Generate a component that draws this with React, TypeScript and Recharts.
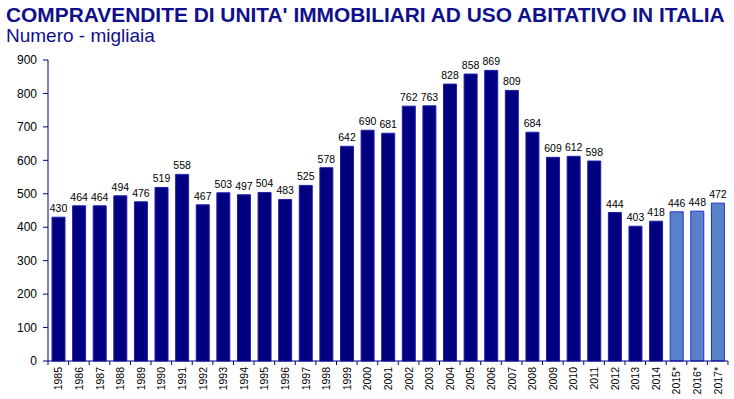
import { BarChart, Bar, XAxis, YAxis, LabelList, Cell } from 'recharts';

const years = [
  '1985', '1986', '1987', '1988', '1989', '1990', '1991', '1992', '1993', '1994', '1995',
  '1996', '1997', '1998', '1999', '2000', '2001', '2002', '2003', '2004', '2005', '2006',
  '2007', '2008', '2009', '2010', '2011', '2012', '2013', '2014', '2015*', '2016*', '2017*',
];
const sales = [
  430, 464, 464, 494, 476, 519, 558, 467, 503, 497, 504,
  483, 525, 578, 642, 690, 681, 762, 763, 828, 858, 869,
  809, 684, 609, 612, 598, 444, 403, 418, 446, 448, 472,
];
const yTicks = [0, 100, 200, 300, 400, 500, 600, 700, 800, 900];

const data = years.map((year, i) => ({ year, value: sales[i], forecast: year.endsWith('*') }));

const FONT = '"Liberation Sans", Arial, sans-serif';
const NAVY = '#000080';
const BAND = 680 / years.length;

function YearTick(props: any) {
  const { x, y, payload, index } = props;
  return (
    <g transform={`translate(${x},${y})`}>
      <line x1={-BAND / 2} x2={-BAND / 2} y1={0} y2={4} stroke={NAVY} />
      {index === years.length - 1 && <line x1={BAND / 2} x2={BAND / 2} y1={0} y2={4} stroke={NAVY} />}
      <text transform="rotate(-90)" x={-6} y={4} textAnchor="end" fontSize={10.5} fontFamily={FONT} fill="#000">
        {payload.value}
      </text>
    </g>
  );
}

export default function App() {
  return (
    <div style={{ position: 'absolute', left: 0, top: 0, width: 734, height: 399, background: '#fff', fontFamily: FONT }}>
      <div style={{ position: 'absolute', left: 6, top: 3, fontSize: 20.9, fontWeight: 'bold', color: '#10108a', whiteSpace: 'nowrap' }}>
        COMPRAVENDITE DI UNITA' IMMOBILIARI AD USO ABITATIVO IN ITALIA
      </div>
      <div style={{ position: 'absolute', left: 6, top: 25, fontSize: 19, color: '#10108a', whiteSpace: 'nowrap' }}>
        Numero - migliaia
      </div>
      <BarChart width={734} height={399} data={data} margin={{ top: 60, right: 6, bottom: 0, left: 0 }} barSize={13}>
        <XAxis
          dataKey="year"
          interval={0}
          height={38}
          tickSize={0}
          tickMargin={0}
          tickLine={false}
          axisLine={{ stroke: NAVY }}
          tick={<YearTick />}
        />
        <YAxis
          domain={[0, 900]}
          ticks={yTicks}
          width={48}
          tickSize={5}
          tickMargin={6}
          axisLine={{ stroke: NAVY }}
          tickLine={{ stroke: NAVY }}
          tick={{ fontSize: 12, fill: '#000', fontFamily: FONT }}
        />
        <Bar dataKey="value" isAnimationActive={false} strokeWidth={1}>
          {data.map((d) => (
            <Cell key={d.year} fill={d.forecast ? '#5a82c8' : NAVY} stroke={d.forecast ? '#1c2fd8' : '#2020b0'} />
          ))}
          <LabelList dataKey="value" position="top" offset={5} fontSize={10.5} fill="#000" fontFamily={FONT} />
        </Bar>
      </BarChart>
    </div>
  );
}
